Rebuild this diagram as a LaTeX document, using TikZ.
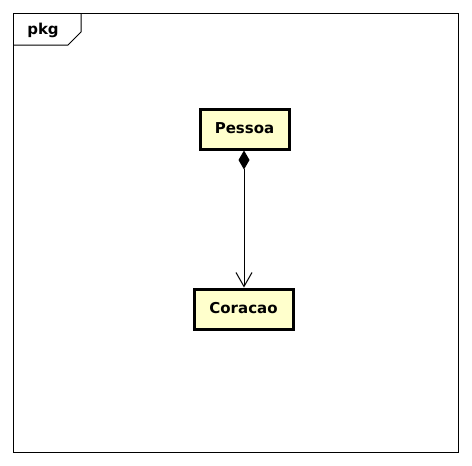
\documentclass[tikz,border=0pt]{standalone}
\usepackage{fontspec}
\setmainfont{DejaVu Sans}
\usetikzlibrary{arrows.meta}
\definecolor{figline}{RGB}{0,0,0}
\definecolor{clsfill}{RGB}{255,255,204}
\tikzset{
  frm/.style  ={draw=figline, line width=1pt},
  cls/.style  ={draw=figline, line width=3pt, fill=clsfill, font=\fontsize{15}{18}\selectfont\bfseries, inner sep=0pt},
  lab/.style  ={font=\fontsize{15}{18}\selectfont\bfseries, inner sep=1pt},
  comp/.style ={draw=figline, line width=1pt, {Diamond[length=19pt,width=11pt]}-{Straight Barb[length=14pt,width=16pt,line width=1pt]}},
}
\begin{document}
\begin{tikzpicture}[x=1pt,y=-1pt]
  \useasboundingbox (0,0) rectangle (472,466);
  % package frame
  \draw[frm] (13,13) rectangle (458,452);
  \draw[frm] (81,13) -- (81,32) -- (68,45) -- (13,45);
  \node[lab] (pkg) at (43,30) {pkg};
  % classes
  \node[cls, minimum width=89pt, minimum height=40pt] (pessoa) at (244.5,129) {\raisebox{2pt}{Pessoa}};
  \node[cls, minimum width=99pt, minimum height=40pt] (coracao) at (243.5,309) {\raisebox{2pt}{Coracao}};
  \draw[comp] (pessoa.south -| 244,0) -- (coracao.north -| 244,0);
\end{tikzpicture}
\end{document}
